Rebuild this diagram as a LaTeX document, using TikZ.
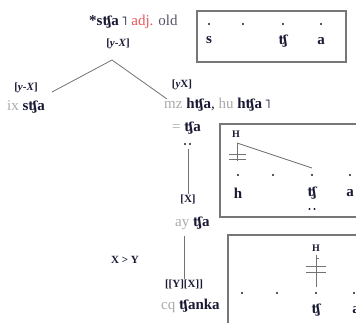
\documentclass[tikz,border=0pt]{standalone}
\usepackage{fontspec}
\setmainfont{Liberation Serif}
\newfontfamily\ipa{DejaVu Serif}
\definecolor{ink}{HTML}{1A1A35}
\definecolor{redt}{HTML}{E8575A}
\definecolor{oldc}{HTML}{55556A}
\definecolor{lite}{HTML}{AAAAAA}
\definecolor{boxc}{HTML}{777777}
\newcommand{\tsh}{{\ipa\bfseries\fontsize{12.5}{13}\selectfont ʧ}}
\newcommand{\tone}{{\ipa\fontsize{12.5}{13}\selectfont ˥}}
\tikzset{
  lab/.style={inner sep=0pt, font=\fontsize{11}{12}\selectfont\bfseries, text=ink},
  wd/.style={inner sep=0pt, font=\fontsize{15}{16}\selectfont, text=ink},
  seg/.style={inner sep=0pt, font=\fontsize{15}{16}\selectfont\bfseries, text=ink},
  frame/.style={draw=boxc, line width=1.2pt},
  ln/.style={draw=gray!90!black, line width=0.8pt},
  dotp/.style={circle, fill=ink, inner sep=0pt, minimum size=2.4pt},
  hh/.style={inner sep=0pt, font=\fontsize{10}{11}\selectfont\bfseries, text=ink}
}
\begin{document}
\begin{tikzpicture}[x=1pt,y=-1pt]
\clip (0,0) rectangle (356,322);
\fill[white] (0,0) rectangle (356,322);
% title
\node[wd, anchor=base west] (title) at (89,25) {\textbf{*s\tsh a}\,\tone\ \textcolor{redt}{adj.} \textcolor{oldc}{old}};
\node[lab] (top) at (118,44) {[\textit{y}-\textit{X}]};
\coordinate (apex) at (112,60);
\coordinate (lend) at (52,92);
\coordinate (rend) at (167,99);
\draw[ln] (lend) -- (apex) -- (rend);
% left branch
\node[lab] (lft) at (26,88) {[\textit{y}-\textit{X}]};
\node[wd, anchor=base west] (ix) at (7,110) {\textcolor{lite}{ix} \textbf{s\tsh a}};
% right branch
\node[lab] (rgt) at (182,85) {[\textit{y}X]};
\node[wd, anchor=base west] (mz) at (164,108) {\textcolor{lite}{mz} \textbf{h\tsh a}, \textcolor{lite}{hu} \textbf{h\tsh a}\,\tone};
\node[wd, anchor=base west] (eq) at (172,131) {\textcolor{lite}{=} \textbf{\tsh a}};
\node[dotp] (e1) at (185,144) {};
\node[dotp] (e2) at (190,144) {};
\coordinate (v1t) at (188,149);
\node[lab] (X) at (188,199) {[X]};
\draw[ln] (v1t) -- (X.north);
\node[wd, anchor=base west] (ay) at (175,226) {\textcolor{lite}{ay} \textbf{\tsh a}};
\node[lab] (xy) at (125,260) {X > Y};
\node[lab] (YX) at (184,284) {[[Y][X]]};
\coordinate (v2t) at (184,236);
\draw[ln] (v2t) -- (YX.north);
\node[wd, anchor=base west] (cq) at (161,309) {\textcolor{lite}{cq} \textbf{\tsh anka}};
% box 1
\draw[frame] (197,11) rectangle (346,62);
\foreach \x/\n in {209/a,243/b,283/c,321/d} \node[dotp] (b1\n) at (\x,24) {};
\node[seg] (s1) at (209,40) {s};
\node[seg] (s2) at (283,41) {\tsh};
\node[seg] (s3) at (321,41) {a};
% box 2
\draw[frame] (220,124) rectangle (370,217);
\node[hh] (H2) at (236,134) {H};
\coordinate (h2a) at (237,143);
\coordinate (h2b) at (312,168);
\draw[ln] (h2a) -- (h2b);
\coordinate (h2c) at (237,161);
\draw[ln] (h2a) -- (h2c);
\coordinate (h2l1) at (229,154); \coordinate (h2r1) at (246,154);
\coordinate (h2l2) at (229,159); \coordinate (h2r2) at (246,159);
\draw[ln] (h2l1) -- (h2r1);
\draw[ln] (h2l2) -- (h2r2);
\foreach \x/\n in {238/a,273/b,312/c,350/d} \node[dotp] (b2\n) at (\x,175) {};
\node[seg] (t1) at (238,193) {h};
\node[seg] (t2) at (312,193) {\tsh};
\node[seg] (t3) at (350,193) {a};
\node[dotp] (f1) at (309.5,209) {};
\node[dotp] (f2) at (314.5,209) {};
% box 3
\draw[frame] (228,235) rectangle (380,340);
\node[hh] (H3) at (316,248) {H};
\coordinate (h3a) at (316,255);
\coordinate (h3b) at (316,287);
\draw[ln] (h3a) -- (h3b);
\coordinate (h3k) at (318.5,258);
\draw[ln, line width=0.5pt] (h3a) ++(0,3) -- (h3k);
\coordinate (h3l1) at (306,266); \coordinate (h3r1) at (326,266);
\coordinate (h3l2) at (306,272); \coordinate (h3r2) at (326,272);
\draw[ln] (h3l1) -- (h3r1);
\draw[ln] (h3l2) -- (h3r2);
\foreach \x/\n in {242/a,277/b,316/c,354/d} \node[dotp] (b3\n) at (\x,293) {};
\node[seg] (u1) at (316,310) {\tsh};
\node[seg] (u2) at (356,310) {a};
\end{tikzpicture}
\end{document}
